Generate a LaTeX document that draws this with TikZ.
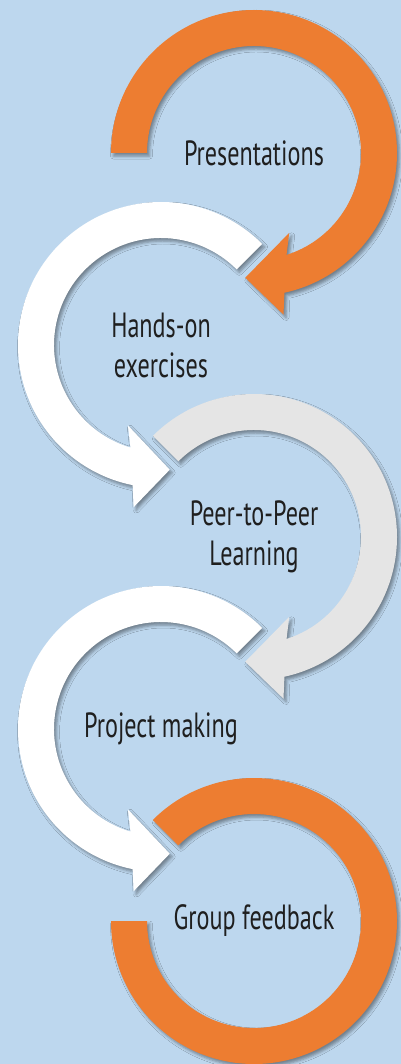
\documentclass[tikz,border=0pt]{standalone}
\usepackage{fontspec}
\setmainfont[FakeStretch=0.69]{PT Sans}
\usetikzlibrary{positioning,shadows.blur}

\definecolor{sky}{RGB}{189,215,238}
\definecolor{accent}{RGB}{237,125,49}
\definecolor{mist}{RGB}{229,229,229}

\def\ringout{143}
\def\ringin{107}
\def\ringmid{125}
\def\headhalf{41}

% ring with a head: #1 centre node, #2 tail angle, #3 head base angle, #4 tip angle, #5 style
\newcommand{\cyclearrow}[5]{%
  \begin{scope}[shift={(#1.center)}]
    \pgfmathsetmacro{\outend}{(#3)-((#3)-(#4))/7}
    \pgfmathsetmacro{\inend}{(#3)+((#3)-(#4))/7}
    \fill[#5] (#2:\ringout) arc[start angle=#2, end angle=\outend, radius=\ringout]
      -- ({\ringmid*cos(#3)+\headhalf*cos(#4)}, {\ringmid*sin(#3)+\headhalf*sin(#4)})
      -- (#4:\ringmid)
      -- ({\ringmid*cos(#3)-\headhalf*cos(#4)}, {\ringmid*sin(#3)-\headhalf*sin(#4)})
      -- (\inend:\ringin) arc[start angle=\inend, end angle=#2, radius=\ringin]
      -- cycle;
  \end{scope}}

\begin{document}
\begin{tikzpicture}[x=1pt, y=1pt, on grid, node distance=192pt and 93pt,
    stage/.style={font=\fontsize{35}{40}\selectfont, align=center, text=black!88},
    ring/.style={blur shadow={shadow xshift=2.5pt, shadow yshift=-3pt,
        shadow blur radius=3pt, shadow opacity=40}}]
  \useasboundingbox (0,0) rectangle (401,-1064);
  \fill[sky] (0,0) rectangle (401,-1064);

  \node[stage] (pres)                               at (254,-153) {Presentations};
  \node[stage] (hands)    [below left=of pres]      {Hands-on\\exercises};
  \node[stage] (peer)     [below right=of hands]    {Peer-to-Peer\\Learning};
  \node[stage] (project)  [below left=of peer]      {Project making};
  \node[stage] (feedback) [below right=of project]  {Group feedback};

  \cyclearrow{pres}{180}{-75}{-94}{accent, ring}
  \cyclearrow{hands}{45}{256}{274}{white, ring}
  \cyclearrow{peer}{135}{-75}{-94}{mist, ring}
  \cyclearrow{project}{45}{256}{274}{white, ring}

  % last ring closes the cycle, no head
  \begin{scope}[shift={(feedback.center)}]
    \fill[accent, ring] (135:\ringout) arc[start angle=135, end angle=-180, radius=\ringout]
      -- (180:\ringin) arc[start angle=-180, end angle=135, radius=\ringin] -- cycle;
  \end{scope}
\end{tikzpicture}
\end{document}
